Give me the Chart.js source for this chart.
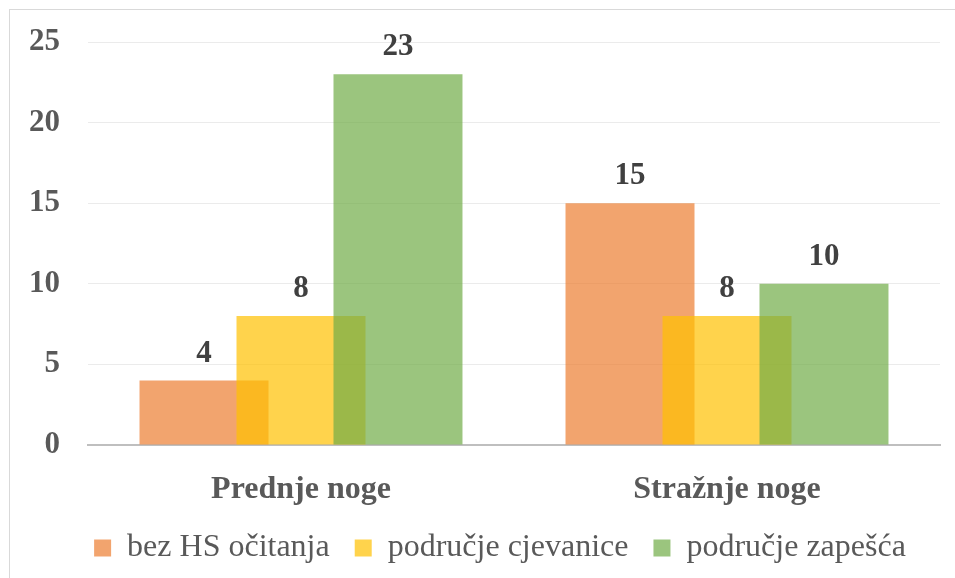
<!DOCTYPE html>
<html lang="hr">
<head>
    <meta charset="UTF-8">
    <title>HS očitanja</title>
    <script src="https://cdn.jsdelivr.net/npm/chart.js"></script>
    <style>
        html, body { margin: 0; padding: 0; background: #fff; }
        #wrap { width: 955px; height: 578px; }
    </style>
</head>
<body>
    <div id="wrap"><canvas id="hsChart" width="955" height="578"></canvas></div>

    <script>
        // podaci
        const categories = ['Prednje noge', 'Stražnje noge'];
        const seriesNames = ['bez HS očitanja', 'područje cjevanice', 'područje zapešća'];
        const bezHS = [4, 15];
        const cjevanica = [8, 8];
        const zapesce = [23, 10];
        const yTicks = [0, 5, 10, 15, 20, 25];

        const serif = "'Liberation Serif', 'Times New Roman', serif";

        // okvir oko grafikona + pomak legende
        const framePlugin = {
            id: 'frame',
            afterLayout(chart) {
                const lg = chart.legend;
                lg.left += 25; lg.right += 25;
                lg.top -= 4; lg.bottom -= 4;
            },
            beforeDraw(chart) {
                const ctx = chart.ctx;
                ctx.save();
                ctx.strokeStyle = '#D9D9D9';
                ctx.lineWidth = 1;
                ctx.strokeRect(9.5, 9.5, 2000, 2000);
                ctx.restore();
            }
        };

        // crtaj skupove redom (prvi dolje), da se preklapaju kao u Excelu
        const drawOrderPlugin = {
            id: 'drawOrder',
            beforeDatasetsDraw(chart) {
                chart.getSortedVisibleDatasetMetas().forEach(m => chart._drawDataset(m));
                return false;
            }
        };

        // vrijednosti iznad stupaca
        const valueLabels = {
            id: 'valueLabels',
            afterDraw(chart) {
                const ctx = chart.ctx;
                ctx.save();
                ctx.font = 'bold 31px ' + serif;
                ctx.fillStyle = '#404040';
                ctx.textAlign = 'center';
                ctx.textBaseline = 'alphabetic';
                chart.data.datasets.forEach((ds, i) => {
                    chart.getDatasetMeta(i).data.forEach((bar, j) => {
                        ctx.fillText(ds.data[j], bar.x, bar.y - 19);
                    });
                });
                ctx.restore();
            }
        };

        const ctx = document.getElementById('hsChart').getContext('2d');
        new Chart(ctx, {
            type: 'bar',
            data: {
                labels: categories,
                datasets: [
                    { label: seriesNames[0], data: bezHS, backgroundColor: 'rgba(237,125,49,0.7)', borderWidth: 0 },
                    { label: seriesNames[1], data: cjevanica, backgroundColor: 'rgba(255,192,0,0.7)', borderWidth: 0 },
                    { label: seriesNames[2], data: zapesce, backgroundColor: 'rgba(112,173,71,0.7)', borderWidth: 0 }
                ]
            },
            options: {
                responsive: false,
                animation: false,
                categoryPercentage: 0.683,
                barPercentage: 1.33,
                layout: { padding: { top: 42, right: 15, left: 10, bottom: 0 } },
                plugins: {
                    tooltip: { enabled: false },
                    legend: {
                        position: 'bottom',
                        labels: {
                            font: { family: serif, size: 32 },
                            color: '#595959',
                            boxWidth: 17,
                            boxHeight: 17,
                            padding: 25
                        }
                    }
                },
                scales: {
                    x: {
                        grid: { display: false },
                        border: { color: '#BFBFBF', width: 2 },
                        ticks: {
                            font: { family: serif, size: 32, weight: 'bold' },
                            color: '#595959',
                            padding: 18
                        },
                        afterFit(scale) { scale.height = 66; }
                    },
                    y: {
                        min: 0,
                        max: 25,
                        afterBuildTicks(scale) { scale.ticks = yTicks.map(v => ({ value: v })); },
                        grid: {
                            color: c => c.tick.value === 0 ? 'rgba(0,0,0,0)' : '#EBEBEB',
                            drawTicks: false
                        },
                        border: { display: false },
                        ticks: {
                            font: { family: serif, size: 31, weight: 'bold' },
                            color: '#595959',
                            padding: 28
                        },
                        afterFit(scale) {
                            scale.width = 78;
                            scale.paddingTop = 0;
                            scale.paddingBottom = 0;
                        }
                    }
                }
            },
            plugins: [framePlugin, drawOrderPlugin, valueLabels]
        });
    </script>
</body>
</html>
